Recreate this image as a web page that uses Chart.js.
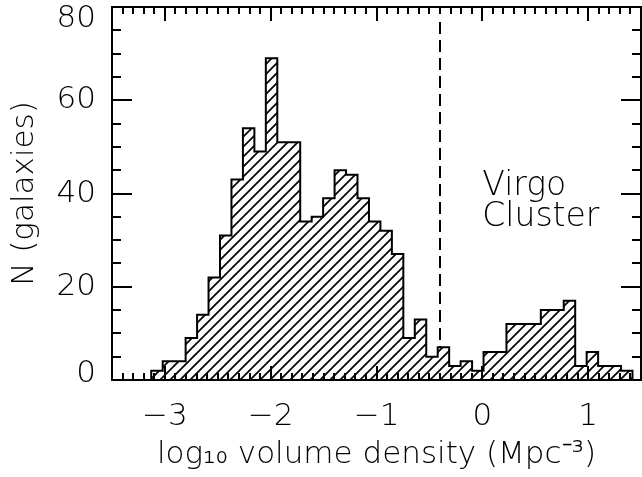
<!DOCTYPE html>
<html>
<head>
<meta charset="utf-8">
<script src="https://cdn.jsdelivr.net/npm/chart.js@4.4.1/dist/chart.umd.min.js"></script>
<style>
  html, body { margin: 0; padding: 0; background: #fff; }
</style>
</head>
<body>
<canvas id="histChart" width="642" height="477"></canvas>
<script>
// histogram of log10 volume density, one count per bin
const binStart = -3.129;
const binWidth = 0.1083;
const counts = [2, 4, 4, 9, 14, 22, 31, 43, 54, 49,
                69, 51, 51, 34, 35, 39, 45, 44, 39, 34,
                32, 27, 9, 13, 5, 7, 3, 4, 2, 6,
                6, 12, 12, 12, 15, 15, 17, 3, 6, 3,
                3, 2];
const xTicks = [-3, -2, -1, 0, 1];
const yTicks = [0, 20, 40, 60, 80];
const virgoCut = -0.4;
const noteLines = ["Virgo", "Cluster"];

const FONT = "'DejaVu Sans', sans-serif";
const FSIZE = 31;
const FWEIGHT = 200;

// bin centres, padded with an empty bin on each side so the outline drops to zero
const histPoints = [{ x: binStart - binWidth / 2, y: 0 }];
counts.forEach((c, i) => histPoints.push({ x: binStart + (i + 0.5) * binWidth, y: c }));
histPoints.push({ x: binStart + (counts.length + 0.5) * binWidth, y: 0 });

// hatch fill: white background with "/" lines
function hatchPattern() {
    const c = document.createElement("canvas");
    c.width = 10;
    c.height = 10;
    const g = c.getContext("2d");
    g.fillStyle = "#fff";
    g.fillRect(0, 0, 10, 10);
    g.strokeStyle = "#000";
    g.lineWidth = 1.7;
    g.beginPath();
    g.moveTo(-1, 11); g.lineTo(11, -1);
    g.moveTo(-1, 1); g.lineTo(1, -1);
    g.moveTo(9, 11); g.lineTo(11, 9);
    g.stroke();
    return g.createPattern(c, "repeat");
}

function fmt(v) {
    return v < 0 ? "\u2212" + Math.abs(v) : String(v);
}

const framePlugin = {
    id: "framePlugin",
    beforeDatasetsDraw(chart) {
        const { ctx, chartArea: a, scales: { x } } = chart;
        const px = Math.round(x.getPixelForValue(virgoCut));
        ctx.save();
        ctx.strokeStyle = "#000";
        ctx.lineWidth = 2;
        ctx.setLineDash([12, 6]);
        ctx.beginPath();
        ctx.moveTo(px, a.top + 15);
        ctx.lineTo(px, a.bottom);
        ctx.stroke();
        ctx.restore();
    },
    afterDatasetsDraw(chart) {
        const { ctx, chartArea: a, scales: { x, y } } = chart;
        ctx.save();
        ctx.strokeStyle = "#000";
        ctx.lineWidth = 2;
        ctx.beginPath();
        for (let i = -35; i <= 15; i++) {
            const px = Math.round(x.getPixelForValue(i / 10));
            const len = i % 10 === 0 ? 14 : 7;
            ctx.moveTo(px, a.bottom); ctx.lineTo(px, a.bottom - len);
            ctx.moveTo(px, a.top); ctx.lineTo(px, a.top + len);
        }
        for (let v = 0; v <= 80; v += 5) {
            const py = Math.round(y.getPixelForValue(v));
            const len = v % 20 === 0 ? 20 : 9;
            ctx.moveTo(a.left, py); ctx.lineTo(a.left + len, py);
            ctx.moveTo(a.right, py); ctx.lineTo(a.right - len, py);
        }
        ctx.stroke();
        ctx.strokeRect(a.left, a.top, a.right - a.left, a.bottom - a.top);

        ctx.fillStyle = "#000";
        // y tick labels, kept inside the frame height at the ends
        ctx.font = FWEIGHT + " " + FSIZE + "px " + FONT;
        ctx.textAlign = "right";
        ctx.textBaseline = "middle";
        yTicks.forEach((v) => {
            const py = Math.min(Math.max(y.getPixelForValue(v), a.top + 12), a.bottom - 6);
            ctx.fillText(fmt(v), a.left - 16, py);
        });

        // label for the cluster side of the cut
        ctx.font = FWEIGHT + " 33px " + FONT;
        ctx.textAlign = "left";
        ctx.textBaseline = "alphabetic";
        const tx = x.getPixelForValue(0);
        ctx.fillText(noteLines[0], tx, y.getPixelForValue(39.6));
        ctx.fillText(noteLines[1], tx, y.getPixelForValue(33));
        ctx.restore();
    },
};

const histChart = document.getElementById("histChart");
const histConfig = {
    type: "line",
    data: {
        datasets: [
            {
                data: histPoints,
                stepped: "middle",
                borderColor: "#000",
                borderWidth: 2,
                pointRadius: 0,
                fill: "origin",
                backgroundColor: hatchPattern(),
            },
        ],
    },
    options: {
        responsive: false,
        animation: false,
        layout: { padding: { top: 7, right: 1, left: 0, bottom: 0 } },
        plugins: {
            legend: { display: false },
            tooltip: { enabled: false },
        },
        scales: {
            x: {
                type: "linear",
                min: -3.5,
                max: 1.5,
                grid: { display: false },
                border: { display: false },
                afterBuildTicks: (s) => { s.ticks = xTicks.map((v) => ({ value: v })); },
                afterFit: (s) => { s.height = 97; s.paddingLeft = 0; s.paddingRight = 0; },
                ticks: {
                    padding: 10,
                    color: "#000",
                    maxRotation: 0,
                    autoSkip: false,
                    font: { family: FONT, size: FSIZE, weight: FWEIGHT },
                    callback: (v) => fmt(v),
                },
                title: {
                    display: true,
                    text: "log\u2081\u2080 volume density (Mpc\u207B\u00B3)",
                    color: "#000",
                    font: { family: FONT, size: FSIZE, weight: FWEIGHT },
                    padding: { top: 0, bottom: 3 },
                },
            },
            y: {
                min: 0,
                max: 80,
                grid: { display: false },
                border: { display: false },
                afterBuildTicks: (s) => { s.ticks = yTicks.map((v) => ({ value: v })); },
                afterFit: (s) => { s.width = 112; s.paddingTop = 0; s.paddingBottom = 0; },
                ticks: { display: false },
                title: {
                    display: true,
                    text: "N (galaxies)",
                    color: "#000",
                    font: { family: FONT, size: FSIZE, weight: FWEIGHT },
                    padding: { top: 6, bottom: 0 },
                },
            },
        },
    },
    plugins: [framePlugin],
};

const volumeHist = new Chart(histChart, histConfig);
</script>
</body>
</html>
